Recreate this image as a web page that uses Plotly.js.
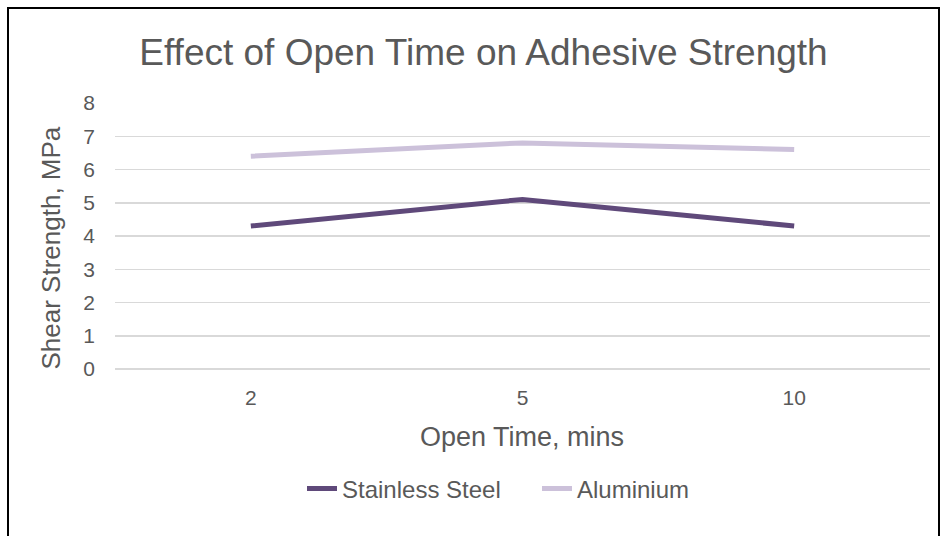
<!DOCTYPE html>
<html>
<head>
<meta charset="utf-8">
<script src="https://cdn.plot.ly/plotly-3.0.1.min.js"></script>
<style>
html,body{margin:0;padding:0;background:#fff;width:948px;height:536px;overflow:hidden;}
#chart{position:absolute;left:0;top:0;width:948px;height:536px;}
#frame{position:absolute;left:7px;top:7px;width:929px;height:600px;border:2px solid #000;pointer-events:none;}
</style>
</head>
<body>
<div id="chart"></div>
<div id="frame"></div>
<script>
const categories = ["2", "5", "10"];
const stainlessSteel = [4.3, 5.1, 4.3];
const aluminium = [6.4, 6.8, 6.6];
const yTicks = [0, 1, 2, 3, 4, 5, 6, 7, 8];
const chartTitle = "Effect of Open Time on Adhesive Strength";
const xTitle = "Open Time, mins";
const yTitle = "Shear Strength, MPa";

const font = "Liberation Sans, Arial, sans-serif";
const textColor = "#595959";

const W = 948, H = 536;
const M = {l: 115, r: 18, t: 103, b: 167};
const pw = W - M.l - M.r, ph = H - M.t - M.b;
const px2x = p => (p - M.l) / pw;
const py2y = p => (H - M.b - p) / ph;

const traces = [
  {x: categories, y: stainlessSteel, name: "Stainless Steel", type: "scatter", mode: "lines",
   line: {color: "#5F497A", width: 5}},
  {x: categories, y: aluminium, name: "Aluminium", type: "scatter", mode: "lines",
   line: {color: "#CCC1DA", width: 5}}
];

const layout = {
  width: W, height: H, autosize: false,
  margin: M,
  paper_bgcolor: "#fff", plot_bgcolor: "#fff",
  font: {family: font, color: textColor},
  title: {text: chartTitle, font: {size: 37, color: textColor, family: font},
          x: 483.5 / W, xanchor: "center", xref: "container", y: 1 - 52 / H, yref: "container", yanchor: "middle"},
  xaxis: {type: "category", range: [-0.5, 2.5], showgrid: false, showline: false, zeroline: false,
          ticks: "", tickfont: {size: 21, color: textColor}, ticklabelstandoff: 14},
  yaxis: {range: [0, 8], tickvals: yTicks, showgrid: true, gridcolor: "#D9D9D9", gridwidth: 1.5,
          zeroline: true, zerolinecolor: "#D9D9D9", zerolinewidth: 1.5, showline: false, ticks: "",
          tickfont: {size: 21, color: textColor}, ticklabelstandoff: 19},
  annotations: [
    {text: xTitle, xref: "paper", yref: "paper", x: px2x(522), y: py2y(437), xanchor: "center", yanchor: "middle",
     showarrow: false, font: {size: 27, color: textColor, family: font}},
    {text: yTitle, xref: "paper", yref: "paper", x: px2x(50), y: py2y(248.5), xanchor: "center", yanchor: "middle",
     textangle: -90, showarrow: false, font: {size: 26, color: textColor, family: font}}
  ],
  showlegend: true,
  legend: {orientation: "h", x: 302 / W, xref: "container", xanchor: "left", y: 1 - 489 / H, yref: "container", yanchor: "middle",
           font: {size: 24, color: textColor}, traceorder: "normal", entrywidth: 190, entrywidthmode: "pixels"}
};

Plotly.newPlot("chart", traces, layout, {displayModeBar: false, staticPlot: true});
</script>
</body>
</html>
